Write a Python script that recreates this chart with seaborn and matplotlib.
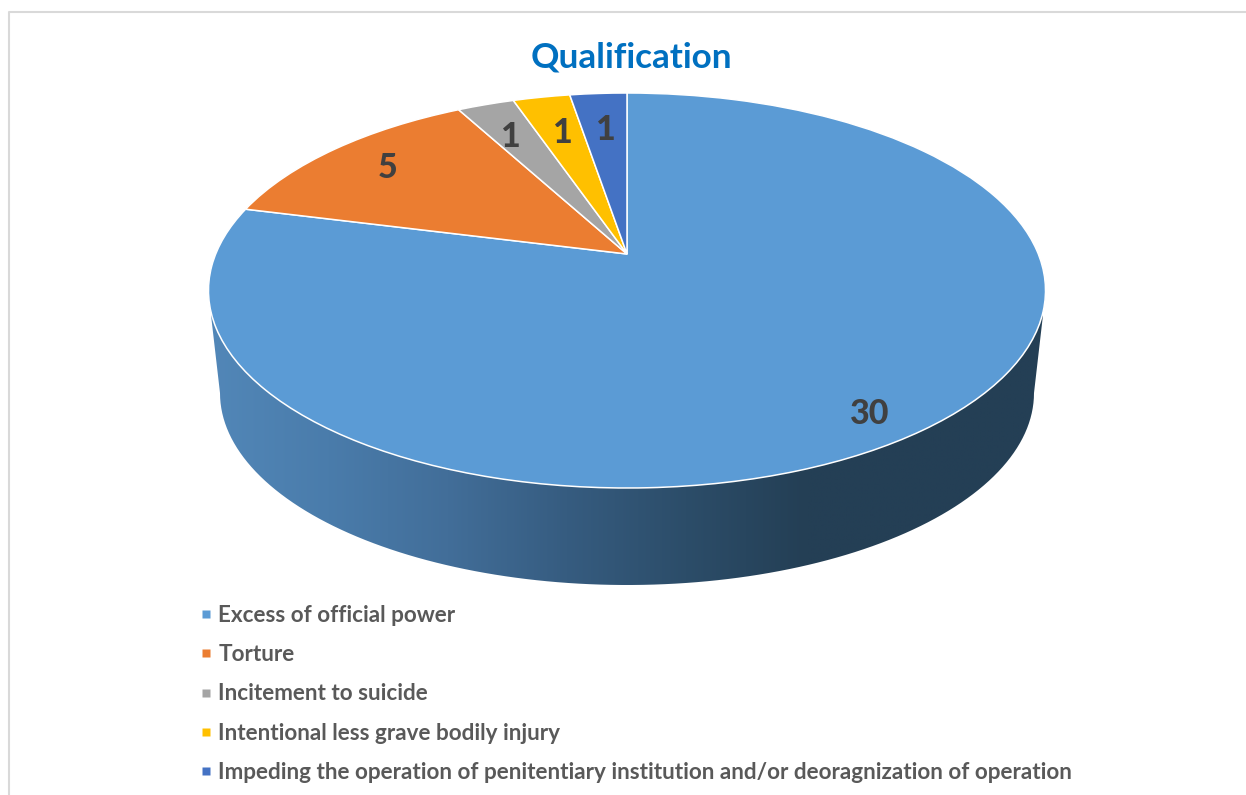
import numpy as np
import matplotlib
matplotlib.use("Agg")
import matplotlib.pyplot as plt
from matplotlib.lines import Line2D
from matplotlib.patches import Polygon
from matplotlib.transforms import Transform
import seaborn as sns

# data
categories = ["Excess of official power", "Torture", "Incitement to suicide",
              "Intentional less grave bodily injury",
              "Impeding the operation of penitentiary institution and/or deoragnization of operation"]
values = [30, 5, 1, 1, 1]
colors = ["#5B9BD5", "#EB7D31", "#A5A5A5", "#FFC000", "#4472C4"]
title = "Qualification"

# where the value labels sit, in picture pixels
label_x = [870, 388, 511, 563, 606]
label_y = [414, 168, 137, 133, 130]

# side wall shades, left to right
wall_shades = ["#5287B8", "#4A7CAB", "#426E99", "#365C80", "#2C4D69", "#243F55", "#243F55", "#243F55"]

sns.set_theme(style="white")
plt.rcParams["font.family"] = ["Lato", "DejaVu Sans"]

W, H = 1246, 795
CX, APEX_Y = 627, 254
K, A, B = 0.1848, 411.3, 190.75


class TiltedDisc(Transform):
    # unit circle -> tilted ellipse, the circle centre lands on the apex
    input_dims = 2
    output_dims = 2

    def transform_non_affine(self, xy):
        xy = np.asarray(xy, dtype=float)
        d = 1 + K * xy[:, 1]
        return np.column_stack([CX + A * xy[:, 0] / d, APEX_Y - B * xy[:, 1] / d])


fig = plt.figure(figsize=(W / 100, H / 100), dpi=100)
ax = fig.add_axes([0, 0, 1, 1])

wedges, _ = ax.pie(values, colors=colors, startangle=90, counterclock=False,
                   wedgeprops={"edgecolor": "white", "linewidth": 1.1, "zorder": 3})
for w in wedges:
    w.set_transform(TiltedDisc() + ax.transData)

# side wall: gradient clipped to the outline under the disc
t = np.radians(np.linspace(180, 0, 120))
wall_x = np.r_[211, 627 + 407 * np.cos(t), 1043]
wall_y = np.r_[315, 393 + 192 * np.sin(t), 315]
outline = Polygon(np.column_stack([wall_x, wall_y]), closed=True, fc="none", ec="none")
ax.add_patch(outline)
shades = np.array(sns.blend_palette(wall_shades, n_colors=256))[np.newaxis, :, :]
img = ax.imshow(shades, extent=(208, 1045, 590, 290), aspect="auto", zorder=1, interpolation="bilinear")
img.set_clip_path(outline)

ax.set_xlim(0, W)
ax.set_ylim(H, 0)
ax.set_aspect("auto")
ax.set_axis_off()

# value labels
for v, x, y in zip(values, label_x, label_y):
    ax.text(x, y, str(v), ha="center", va="center", fontsize=24.5, fontweight=900, color="#404040", zorder=5)

ax.text(631.5, 57.5, title, ha="center", va="center", fontsize=25.3, fontweight="bold", color="#0070C0")

# legend
handles = [Line2D([], [], linestyle="none", marker="s", markersize=6, markerfacecolor=c,
                  markeredgecolor="none") for c in colors]
ax.legend(handles, categories, loc="upper left", bbox_to_anchor=(199.5, 604.5), bbox_transform=ax.transData,
          frameon=False, labelcolor="#595959", prop={"weight": "bold", "size": 16.2},
          labelspacing=0.82, handlelength=0.6, handletextpad=0.24, borderpad=0, borderaxespad=0)

# chart area border
ax.plot([8.5, 8.5, W], [H, 12, 12], color="#D9D9D9", linewidth=1.5, zorder=0)

fig.savefig("out.png", dpi=100)
